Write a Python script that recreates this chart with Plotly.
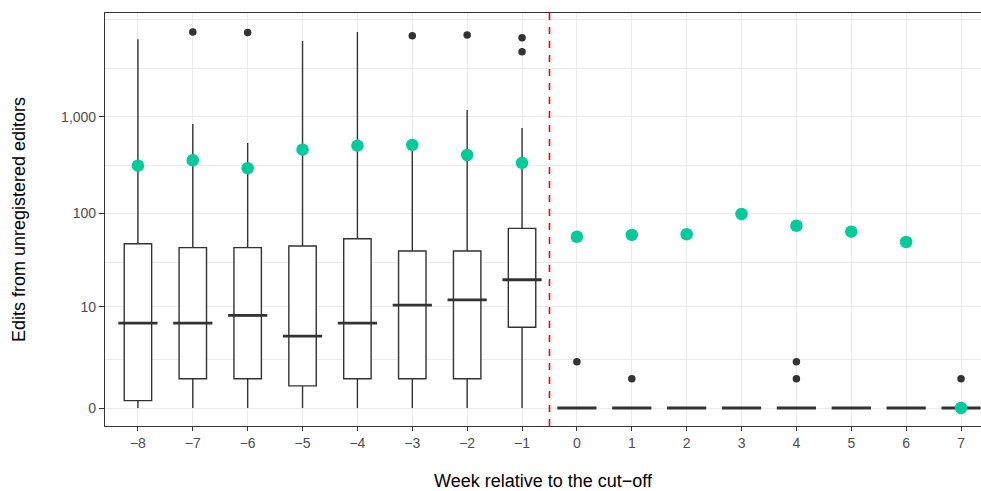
import numpy as np
import plotly.graph_objects as go

# ---- data (raw counts) ----
weeks = [-8, -7, -6, -5, -4, -3, -2, -1, 0, 1, 2, 3, 4, 5, 6, 7]
week_labels = ["−8", "−7", "−6", "−5", "−4", "−3", "−2", "−1",
               "0", "1", "2", "3", "4", "5", "6", "7"]
q1 = [0.19, 1, 1, 0.69, 1, 1, 1, 5.8, 0, 0, 0, 0, 0, 0, 0, 0]
median = [6.5, 6.5, 8, 4.5, 6.5, 10.5, 12, 20, 0, 0, 0, 0, 0, 0, 0, 0]
q3 = [48.4, 44, 44, 45.8, 54.6, 40.5, 40.5, 70, 0, 0, 0, 0, 0, 0, 0, 0]
lower_whisker = [0, 0, 0, 0, 0, 0, 0, 0, 0, 0, 0, 0, 0, 0, 0, 0]
upper_whisker = [6320, 846, 538, 6080, 7500, 456, 1180, 770, 0, 0, 0, 0, 0, 0, 0, 0]
means = [314, 357, 296, 459, 505, 514, 405, 335, 57.3, 59.8, 60.8, 99, 74.7, 64.7, 50.4, 0]
outlier_week = [-7, -6, -3, -2, -1, -1, 0, 1, 4, 4, 7]
outlier_val = [7520, 7450, 6890, 7000, 6570, 4710, 2, 1, 2, 1, 1]
y_tick_values = [0, 10, 100, 1000]
y_tick_labels = ["0", "10", "100", "1,000"]
cutoff = -0.5


def tr(v):
    return np.log10(np.asarray(v, dtype=float) + 1)


DARK = "#333333"
GRID = "#EBEBEB"
GREEN = "#00CC99"
FONT = "Liberation Sans, Arial, sans-serif"

fig = go.Figure()

fig.add_trace(go.Box(
    x=weeks, q1=tr(q1), median=tr(median), q3=tr(q3),
    lowerfence=tr(lower_whisker), upperfence=tr(upper_whisker),
    width=0.5, whiskerwidth=0, boxpoints=False,
    fillcolor="white", line=dict(color=DARK, width=1.4),
    hoverinfo="skip", showlegend=False,
))

# thick median bars
fig.add_trace(go.Scatter(
    x=weeks, y=tr(median), mode="markers",
    marker=dict(symbol="line-ew", size=28,
                line=dict(color=DARK, width=2.8)),
    hoverinfo="skip", showlegend=False,
))

# outliers
fig.add_trace(go.Scatter(
    x=outlier_week, y=tr(outlier_val), mode="markers",
    marker=dict(color=DARK, size=7.5),
    hoverinfo="skip", showlegend=False,
))

# means
fig.add_trace(go.Scatter(
    x=weeks, y=tr(means), mode="markers",
    marker=dict(color=GREEN, size=12.5),
    hoverinfo="skip", showlegend=False,
))

fig.add_shape(type="line", xref="x", yref="paper", x0=cutoff, x1=cutoff,
              y0=0, y1=1, line=dict(color="#FF0000", width=1.6, dash="7px,7px"))

fig.update_layout(
    width=981, height=491,
    margin=dict(l=105, r=0, t=13, b=65),
    paper_bgcolor="white", plot_bgcolor="white",
    font=dict(family=FONT),
)

fig.update_xaxes(
    automargin=False,
    range=[-8.6, 7.364], tickmode="array", tickvals=weeks, ticktext=week_labels,
    showgrid=True, gridcolor=GRID, gridwidth=1.1, zeroline=False,
    showline=True, linecolor=DARK, linewidth=1.1, mirror=True,
    ticks="outside", ticklen=4, tickcolor=DARK, tickwidth=1.1,
    tickfont=dict(size=14, color="#4D4D4D", family=FONT),
    title=dict(text="Week relative to the cut−off",
               font=dict(size=18, color="black", family=FONT), standoff=25),
)

fig.update_yaxes(
    automargin=False,
    range=[-0.1856, 4.072], tickmode="array", tickvals=tr(y_tick_values),
    ticktext=y_tick_labels,
    showgrid=True, gridcolor=GRID, gridwidth=1.1, zeroline=False,
    showline=True, linecolor=DARK, linewidth=1.1, mirror=False,
    ticks="outside", ticklen=5, tickcolor=DARK, tickwidth=1.1,
    tickfont=dict(size=14, color="#4D4D4D", family=FONT),
    minor=dict(tickvals=[0.5, 1.5, 2.5, 3.5, 4.0], showgrid=True,
               gridcolor=GRID, gridwidth=0.6, ticks=""),
    title=dict(text="Edits from unregistered editors",
               font=dict(size=18, color="black", family=FONT), standoff=30),
)

fig.write_html(
    "out.html",
    config={"displayModeBar": False},
    post_script="document.body.style.margin='0';document.body.style.overflow='hidden';",
)
